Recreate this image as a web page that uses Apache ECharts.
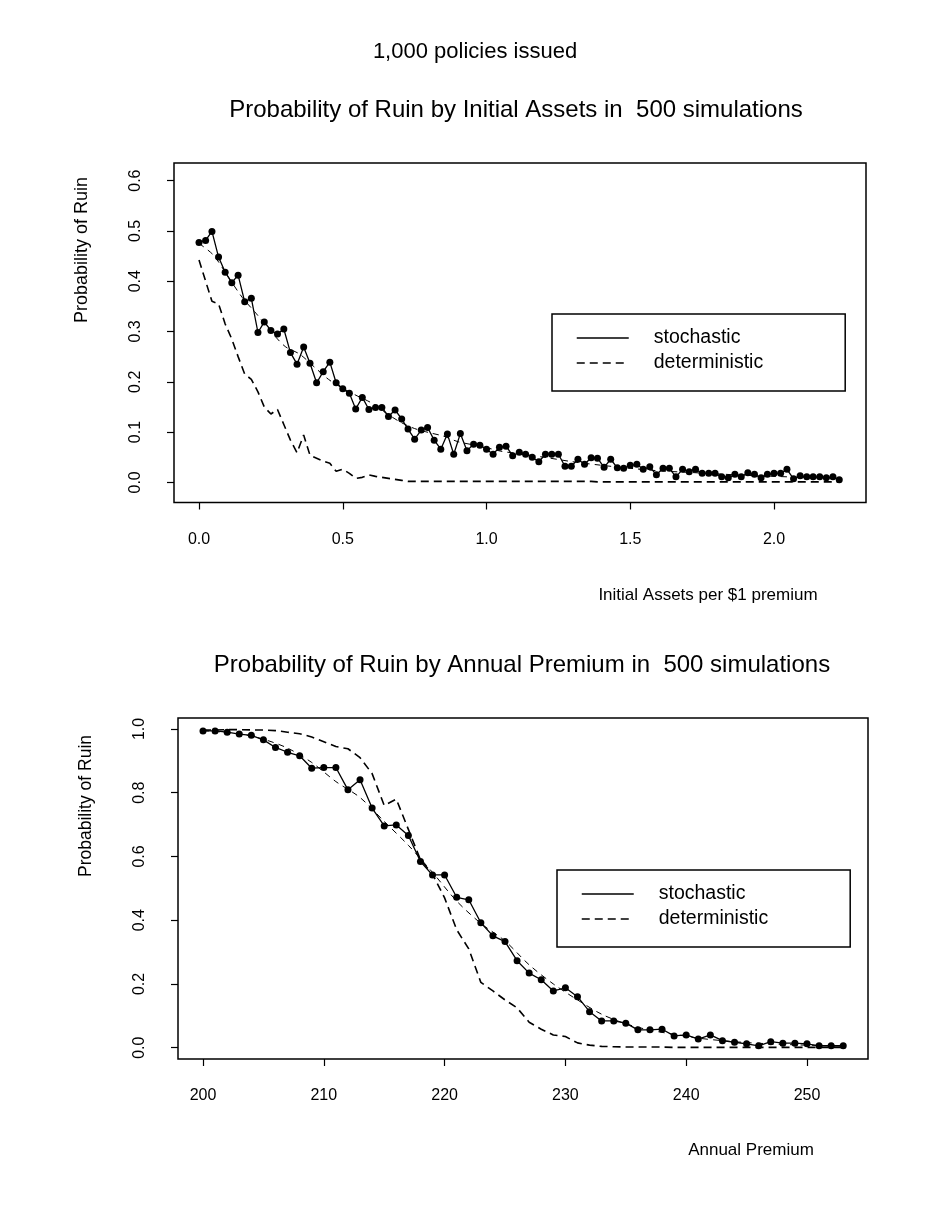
<!DOCTYPE html>
<html><head><meta charset="utf-8">
<script src="https://cdn.jsdelivr.net/npm/echarts@6/dist/echarts.min.js"></script>
<style>html,body{margin:0;padding:0;background:#fff}#c{width:928px;height:1221px}</style>
</head><body><div id="c"></div>
<script>
// ---------- Top chart: Probability of ruin by initial assets ----------
const assetsX = [0,0.023,0.045,0.068,0.091,0.114,0.136,0.159,0.182,0.205,0.227,0.25,0.273,0.295,0.318,0.341,0.364,0.386,0.409,0.432,0.455,0.477,0.5,0.523,0.545,0.568,0.591,0.614,0.636,0.659,0.682,0.705,0.727,0.75,0.773,0.795,0.818,0.841,0.864,0.886,0.909,0.932,0.955,0.977,1.0,1.023,1.045,1.068,1.091,1.114,1.136,1.159,1.182,1.205,1.227,1.25,1.273,1.295,1.318,1.341,1.364,1.386,1.409,1.432,1.455,1.477,1.5,1.523,1.545,1.568,1.591,1.614,1.636,1.659,1.682,1.705,1.727,1.75,1.773,1.795,1.818,1.841,1.864,1.886,1.909,1.932,1.955,1.977,2.0,2.023,2.045,2.068,2.091,2.114,2.136,2.159,2.182,2.205,2.227];
const assetsStochastic = [0.477,0.481,0.499,0.448,0.418,0.397,0.412,0.359,0.366,0.298,0.319,0.302,0.295,0.305,0.258,0.235,0.269,0.237,0.198,0.220,0.239,0.198,0.186,0.177,0.146,0.169,0.145,0.149,0.149,0.131,0.144,
0.126,0.106,0.086,0.104,0.109,0.084,0.066,0.096,0.056,0.097,0.063,0.076,0.074,0.066,0.056,0.070,0.072,0.053,0.060,0.056,0.050,0.041,0.056,0.056,0.056,0.032,0.032,0.046,0.036,0.049,0.048,0.030,0.046,0.029,0.028,0.034,0.036,0.026,0.031,0.015,0.028,0.028,0.011,0.026,0.021,0.026,0.018,0.018,0.018,0.011,0.009,0.016,0.011,0.019,0.016,0.009,0.016,0.018,0.018,0.026,0.007,0.013,0.011,0.011,0.011,0.009,0.011,0.005];
const assetsDeterministic = [0.442,0.400,0.360,0.355,0.315,0.285,0.250,0.215,0.205,0.180,0.150,0.136,0.145,0.115,0.084,0.059,0.094,0.054,0.048,0.042,0.038,0.022,0.026,0.018,0.008,0.010,0.015,0.012,0.010,0.008,0.006,0.004,0.002,
0.002,0.002,0.002,0.002,0.002,0.002,0.002,0.002,0.002,0.002,0.002,0.002,0.002,0.002,0.002,0.002,0.002,0.002,0.002,0.002,0.002,0.002,0.002,0.002,0.002,0.002,0.002,0.002,
0.001,0.001,0.001,0.001,0.001,0.001,0.001,0.001,0.001,0.001,0.001,0.001,0.001,0.001,0.001,0.001,0.001,0.001,0.001,0.001,0.001,0.001,0.001,0.001,0.001,0.001,0.001,0.001,0.001,0.001,0.001,0.001,0.001,0.001,0.001,0.001,0.001,0.001];
const assetsTrendX = [0,0.05,0.1,0.15,0.2,0.25,0.3,0.35,0.4,0.45,0.5,0.55,0.6,0.65,0.7,0.75,0.8,0.85,0.9,0.95,1.0,1.05,1.1,1.2,1.3,1.4,1.5,1.6,1.7,1.8,1.9,2.0,2.1,2.227];
const assetsTrend = [0.475,0.452,0.41,0.368,0.335,0.3,0.27,0.255,0.23,0.205,0.187,0.172,0.158,0.138,0.12,0.107,0.099,0.092,0.081,0.075,0.069,0.062,0.058,0.05,0.041,0.034,0.028,0.023,0.02,0.017,0.014,0.012,0.01,0.008];
const assetsXTicks = [0,0.5,1,1.5,2];
const assetsYTicks = [0,0.1,0.2,0.3,0.4,0.5,0.6];

// ---------- Bottom chart: Probability of ruin by annual premium ----------
const premiumX = [200,201,202,203,204,205,206,207,208,209,210,211,212,213,214,215,216,217,218,219,220,221,222,223,224,225,226,227,228,229,230,231,232,233,234,235,236,237,238,239,240,241,242,243,244,245,246,247,248,249,250,251,252,253];
const premiumStochastic = [0.994,0.994,0.990,0.984,0.980,0.966,0.942,0.927,0.916,0.877,0.879,0.879,0.809,0.841,0.752,0.696,0.699,0.666,0.584,0.542,0.542,0.472,0.464,0.392,0.351,0.333,0.273,0.234,0.213,0.178,0.188,0.160,0.113,0.084,0.084,0.077,0.056,0.056,0.058,0.037,0.040,0.027,0.040,0.022,0.017,0.012,0.006,0.019,0.014,0.014,0.012,0.006,0.006,0.006];
const premiumDeterministic = [0.997,0.997,0.998,0.998,0.997,0.997,0.995,0.990,0.985,0.975,0.960,0.945,0.938,0.910,0.860,0.760,0.780,0.685,0.590,0.545,0.470,0.370,0.310,0.205,0.178,0.150,0.125,0.080,0.058,0.040,0.035,0.015,0.008,0.004,0.003,0.002,0.002,0.002,0.002,0.001,0.001,0.001,0.001,0.001,0.001,0.001,0.001,0.001,0.001,0.001,0.001,0.001,0.001,0.001];
const premiumTrendX = [200,203,205,207,209,211,213,215,217,219,221,223,225,227,229,231,233,235,237,239,241,243,245,247,249,251,253];
const premiumTrend = [0.995,0.985,0.968,0.94,0.895,0.835,0.785,0.71,0.635,0.55,0.46,0.39,0.335,0.26,0.2,0.15,0.105,0.075,0.055,0.042,0.03,0.022,0.016,0.012,0.009,0.007,0.005];
const premiumXTicks = [200,210,220,230,240,250];
const premiumYTicks = [0,0.2,0.4,0.6,0.8,1.0];

const seriesNames = ['stochastic','deterministic'];
const texts = {
  top: '1,000 policies issued',
  title1: 'Probability of Ruin by Initial Assets in  500 simulations',
  title2: 'Probability of Ruin by Annual Premium in  500 simulations',
  ylab: 'Probability of Ruin',
  xlab1: 'Initial Assets per $1 premium',
  xlab2: 'Annual Premium'
};

const FONT = '"Liberation Sans", Arial, Helvetica, sans-serif';
const zip = (xs, ys) => xs.map((x, i) => [x, ys[i]]);
const fmt1 = v => Number(v).toFixed(1);
const fmt0 = v => String(Math.round(v));

function axisCfg(g, min, max, ticks, fmt, isY) {
  return {
    type: 'value', gridIndex: g, min: min, max: max,
    position: isY ? 'left' : 'bottom',
    axisLine: { show: false, onZero: false },
    splitLine: { show: false },
    axisTick: { show: true, inside: false, length: 7, customValues: ticks, lineStyle: { color: '#000', width: 1.2 } },
    axisLabel: { show: true, customValues: ticks, formatter: fmt, margin: isY ? 30 : 29, rotate: isY ? 90 : 0,
      color: '#000', fontFamily: FONT, fontSize: 16 }
  };
}

function legendCfg(left, top) {
  return {
    orient: 'vertical', left: left, top: top,
    data: seriesNames,
    padding: [14, 82, 18, 24],
    itemGap: 5, itemWidth: 52, itemHeight: 14,
    borderColor: '#000', borderWidth: 1.5, backgroundColor: '#fff',
    itemStyle: { opacity: 0 },
    lineStyle: { width: 1.5 },
    selectedMode: false,
    textStyle: { fontFamily: FONT, fontSize: 19.5, color: '#000', padding: [0, 0, 0, 20] }
  };
}

function txt(x, y, s, size, rot) {
  return { type: 'text', x: x, y: y, rotation: rot || 0, z: 100,
    style: { text: s, fill: '#000', font: size + 'px ' + FONT, align: 'center', verticalAlign: 'middle' } };
}

const stochStyle = { lineStyle: { color: '#000', width: 1.3 }, itemStyle: { color: '#000' } };

const option = {
  backgroundColor: '#fff',
  animation: false,
  grid: [
    { left: 174, top: 163, width: 692, height: 339.5, show: true, borderColor: '#000', borderWidth: 1.5, backgroundColor: 'transparent' },
    { left: 178, top: 718, width: 690, height: 341, show: true, borderColor: '#000', borderWidth: 1.5, backgroundColor: 'transparent' }
  ],
  xAxis: [
    axisCfg(0, -0.087, 2.32, assetsXTicks, fmt1, false),
    axisCfg(1, 197.93, 255.05, premiumXTicks, fmt0, false)
  ],
  yAxis: [
    axisCfg(0, -0.040, 0.635, assetsYTicks, fmt1, true),
    axisCfg(1, -0.0355, 1.0345, premiumYTicks, fmt1, true)
  ],
  legend: [legendCfg(552, 314), legendCfg(557, 870)],
  graphic: [
    txt(475, 52, texts.top, 22),
    txt(516, 110, texts.title1, 24),
    txt(522, 665, texts.title2, 24),
    txt(82, 250, texts.ylab, 18, Math.PI / 2),
    txt(86, 806, texts.ylab, 17.5, Math.PI / 2),
    txt(708, 595, texts.xlab1, 17),
    txt(751, 1150, texts.xlab2, 17)
  ],
  series: [
    Object.assign({ name: 'stochastic', type: 'line', xAxisIndex: 0, yAxisIndex: 0, data: zip(assetsX, assetsStochastic),
      symbol: 'circle', symbolSize: 7, showSymbol: true, z: 4 }, stochStyle),
    { name: 'deterministic', type: 'line', xAxisIndex: 0, yAxisIndex: 0, data: zip(assetsX, assetsDeterministic),
      symbol: 'none', lineStyle: { color: '#000', width: 1.6, type: [8, 5] }, itemStyle: { color: '#000' }, z: 3 },
    { name: 'trend', type: 'line', xAxisIndex: 0, yAxisIndex: 0, data: zip(assetsTrendX, assetsTrend),
      symbol: 'none', smooth: 0.3, lineStyle: { color: '#000', width: 1, type: [6, 5] }, z: 2 },
    Object.assign({ name: 'stochastic', type: 'line', xAxisIndex: 1, yAxisIndex: 1, data: zip(premiumX, premiumStochastic),
      symbol: 'circle', symbolSize: 7, showSymbol: true, z: 4 }, stochStyle),
    { name: 'deterministic', type: 'line', xAxisIndex: 1, yAxisIndex: 1, data: zip(premiumX, premiumDeterministic),
      symbol: 'none', lineStyle: { color: '#000', width: 1.6, type: [8, 5] }, itemStyle: { color: '#000' }, z: 3 },
    { name: 'trend', type: 'line', xAxisIndex: 1, yAxisIndex: 1, data: zip(premiumTrendX, premiumTrend),
      symbol: 'none', smooth: 0.3, lineStyle: { color: '#000', width: 1, type: [6, 5] }, z: 2 }
  ]
};

const chart = echarts.init(document.getElementById('c'), null, { renderer: 'canvas' });
chart.setOption(option);
</script>
</body></html>
